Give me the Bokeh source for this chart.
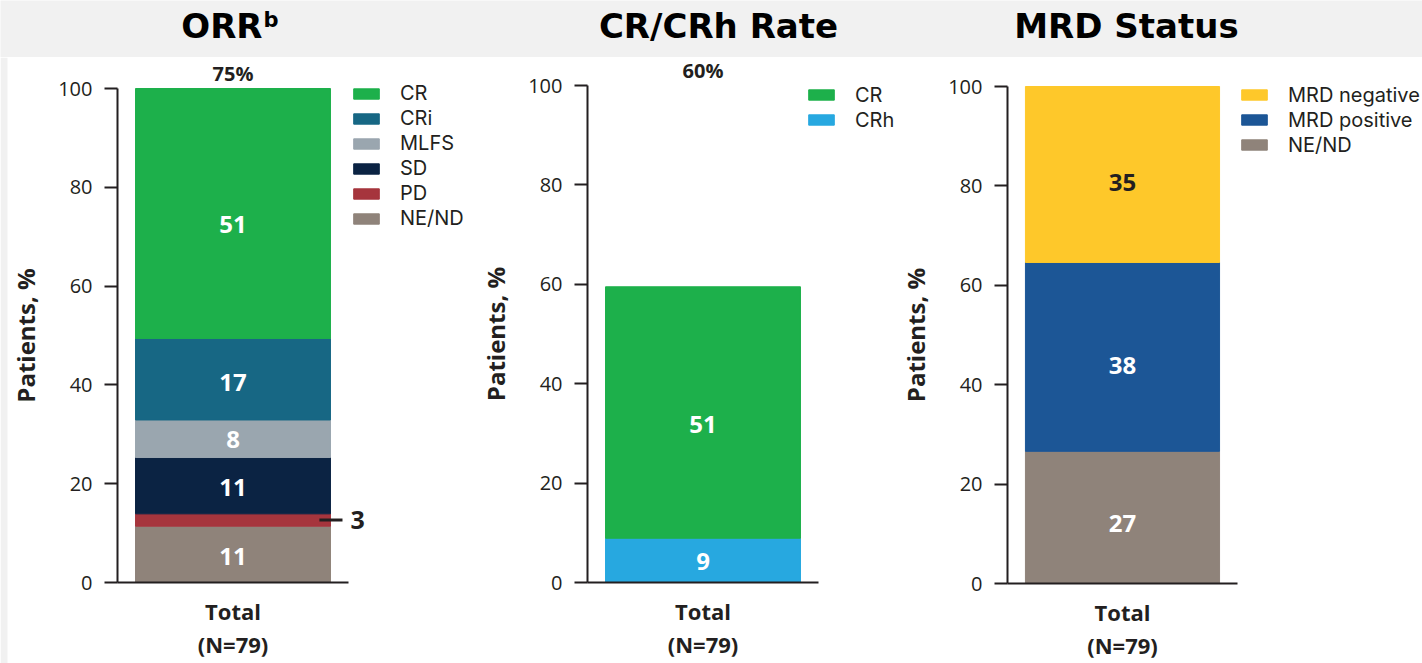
import numpy as np
from bokeh.plotting import figure
from bokeh.models import (ColumnDataSource, Range1d, Legend, LegendItem,
                          FixedTicker, BoxAnnotation)
from bokeh.layouts import column, row
from bokeh.embed import file_html
from bokeh.resources import INLINE
from bokeh.core.properties import value

# ---------------- data ----------------
category = ["Total"]
n_label = "(N=79)"
y_ticks = [0, 20, 40, 60, 80, 100]

orr_groups = ["NE/ND", "PD", "SD", "MLFS", "CRi", "CR"]          # bottom -> top
orr_values = [11.4, 2.5, 11.4, 7.6, 16.5, 50.6]
orr_labels = ["11", "3", "11", "8", "17", "51"]
orr_colors = ["#8f837a", "#a6353d", "#0b2343", "#9aa6af", "#176784", "#1db04b"]
orr_total = "75%"

cr_groups = ["CRh", "CR"]
cr_values = [8.9, 50.6]
cr_labels = ["9", "51"]
cr_colors = ["#27a8e0", "#1db04b"]
cr_total = "60%"

mrd_groups = ["NE/ND", "MRD positive", "MRD negative"]
mrd_values = [26.6, 38.0, 35.4]
mrd_labels = ["27", "38", "35"]
mrd_colors = ["#8f837a", "#1c5696", "#fec82a"]
mrd_total = ""

panel_titles = ["ORR", "CR/CRh Rate", "MRD Status"]
orr_title_sup = "b"

# ---------------- style / layout ----------------
INK = "#231f20"
GRAY_BG = "#f1f1f1"
BODY = "Open Sans"
LEGEND_FONT = "Inter"
HEAD = "DejaVu Sans"
BAR_W = 0.844
TOP_H = 57
FIG_H = 663 - TOP_H
ROW_H = 24.6        # legend row pitch as laid out by bokeh


def label_color(c):
    return INK if c == "#fec82a" else "white"


def make_panel(groups, values, labels, colors, total, fig_left, width, axis_x,
               axis_top, axis_bottom, unit_px, legend_left, callout_index=None,
               left_strip=0):
    # whole figure is the frame; axes sit at fixed data locations
    px_per_pct = (axis_bottom - axis_top) / 100.0
    y_max = 100 + (axis_top - TOP_H) / px_per_pct
    y_min = -(TOP_H + FIG_H - axis_bottom) / px_per_pct
    x_min = -(axis_x - fig_left) / unit_px
    x_max = (fig_left + width - axis_x) / unit_px

    p = figure(width=width, height=FIG_H, x_range=Range1d(x_min, x_max),
               y_range=Range1d(y_min, y_max), output_backend="svg",
               toolbar_location=None, tools="", min_border=0)
    p.outline_line_color = None
    p.grid.visible = False
    p.background_fill_color = "white"
    p.border_fill_color = "white"
    if left_strip:
        p.add_layout(BoxAnnotation(left=x_min, right=x_min + left_strip / unit_px,
                                   fill_color=GRAY_BG, fill_alpha=1,
                                   line_color=None, level="underlay"))

    xpos = [i + 0.5 for i in range(len(category))]
    data = {"x": xpos}
    for g, v in zip(groups, values):
        data[g] = [v]
    src = ColumnDataSource(data)
    rs = p.vbar_stack(groups, x="x", width=BAR_W, color=colors, source=src)

    vals = np.array(values, dtype=float)
    cum = np.cumsum(vals)
    lab_y = cum - 0.55 * vals
    inner = [("" if i == callout_index else t) for i, t in enumerate(labels)]
    tsrc = ColumnDataSource(dict(x=xpos * len(groups), y=list(lab_y), text=inner,
                                 color=[label_color(c) for c in colors]))
    p.text(x="x", y="y", text="text", source=tsrc, text_color="color",
           text_font=value(BODY), text_font_style="bold", text_font_size="24px",
           text_align="center", text_baseline="middle", y_offset=-1)

    if total:
        p.text(x=xpos, y=[100], text=[total], text_color=INK,
               text_font=value(BODY), text_font_style="bold",
               text_font_size="20px", text_align="center",
               text_baseline="middle", y_offset=-15)

    if callout_index is not None:
        yc = cum[callout_index] - vals[callout_index] / 2
        edge = xpos[0] + BAR_W / 2
        p.segment(x0=[edge - 0.048], x1=[edge + 0.052], y0=[yc], y1=[yc],
                  line_color=INK, line_width=3)
        p.text(x=[len(category)], y=[yc], text=[labels[callout_index]],
               text_font=value(BODY), text_font_style="bold",
               text_font_size="25px", text_color=INK, text_align="left",
               text_baseline="middle", x_offset=2)

    # axes
    ya = p.yaxis[0]
    ya.fixed_location = 0
    ya.ticker = FixedTicker(ticks=y_ticks)
    ya.bounds = (0, 100)
    ya.axis_label = "Patients, %"
    ya.axis_label_text_font = BODY
    ya.axis_label_text_font_style = "bold"
    ya.axis_label_text_font_size = "24px"
    ya.axis_label_text_color = INK
    ya.axis_label_standoff = 13
    ya.major_label_text_font = BODY
    ya.major_label_text_font_size = "20px"
    ya.major_label_text_color = INK
    ya.major_label_standoff = 12
    ya.major_tick_out = 13
    ya.major_tick_in = 0
    ya.minor_tick_line_color = None
    ya.axis_line_width = 2
    ya.axis_line_color = INK
    ya.major_tick_line_width = 2
    ya.major_tick_line_color = INK

    xa = p.xaxis[0]
    xa.fixed_location = 0
    xa.ticker = FixedTicker(ticks=xpos)
    xa.bounds = (0, len(category))
    xa.major_label_overrides = {x: c + "\n" + n_label for x, c in zip(xpos, category)}
    xa.major_label_text_font = BODY
    xa.major_label_text_font_style = "bold"
    xa.major_label_text_font_size = "22px"
    xa.major_label_text_color = INK
    xa.major_label_text_line_height = 1.1
    xa.major_label_standoff = 7
    xa.major_tick_line_color = None
    xa.minor_tick_line_color = None
    xa.axis_line_width = 2
    xa.axis_line_color = INK

    # legend (top item first); first swatch centred ~95 px from page top
    items = [LegendItem(label=g, renderers=[r]) for g, r in zip(groups, rs)][::-1]
    n = len(items)
    leg_h = n * ROW_H
    leg_top = 95 - ROW_H / 2
    ly = (TOP_H + FIG_H) - leg_top - leg_h
    leg = Legend(items=items, location=(legend_left - fig_left, ly), glyph_width=32,
                 glyph_height=13, label_height=23, label_standoff=18,
                 spacing=1, padding=0, margin=0, border_line_color=None,
                 background_fill_alpha=0, label_text_font=LEGEND_FONT,
                 label_text_font_size="20px", label_text_color=INK)
    p.add_layout(leg)
    return p


W1, W2, W3 = 475, 422, 525

p1 = make_panel(orr_groups, orr_values, orr_labels, orr_colors, orr_total,
                0, W1, 117, 88, 582, 231, 350, callout_index=1, left_strip=7)
p2 = make_panel(cr_groups, cr_values, cr_labels, cr_colors, cr_total,
                W1, W2, 587, 85, 582, 231, 805)
p3 = make_panel(mrd_groups, mrd_values, mrd_labels, mrd_colors, mrd_total,
                W1 + W2, W3, 1007, 86, 583, 230, 1238)

# ---------------- header band ----------------
total_w = W1 + W2 + W3
head = figure(width=total_w, height=TOP_H, x_range=Range1d(0, total_w),
              y_range=Range1d(0, TOP_H), x_axis_type=None, y_axis_type=None,
              output_backend="svg", toolbar_location=None, tools="",
              min_border=0)
head.outline_line_color = None
head.background_fill_color = GRAY_BG
head.border_fill_color = GRAY_BG
title_x = [231, 718, 1126]
hsrc = ColumnDataSource(dict(x=title_x[1:], y=[31.5, 31.5], text=panel_titles[1:]))
head.text(x="x", y="y", text="text", source=hsrc, text_font=value(HEAD),
          text_font_style="bold", text_font_size="34px", text_color="black",
          text_align="center", text_baseline="middle")
head.text(x=[title_x[0] + 31], y=[31.5], text=[panel_titles[0]], text_font=value(HEAD),
          text_font_style="bold", text_font_size="34px", text_color="black",
          text_align="right", text_baseline="middle")
head.text(x=[title_x[0] + 32], y=[37.5], text=[orr_title_sup], text_font=value(HEAD),
          text_font_style="bold", text_font_size="21px", text_color="black",
          text_align="left", text_baseline="middle")

layout = column(head, row(p1, p2, p3))
open("out.html", "w").write(file_html(layout, INLINE))
